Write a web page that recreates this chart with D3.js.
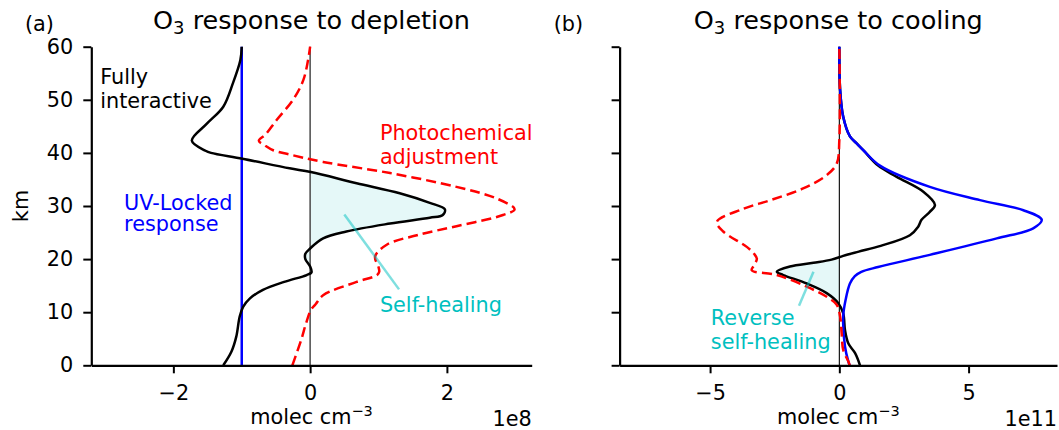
<!DOCTYPE html>
<html>
<head>
<meta charset="utf-8">
<script src="https://cdn.jsdelivr.net/npm/d3@7"></script>
<style>
  body { margin: 0; background: #fff; }
  text { font-family: "DejaVu Sans", sans-serif; }
</style>
</head>
<body>
<div id="chart"></div>
<script>
// altitude ticks shared by both panels
var kmTicks = [0, 10, 20, 30, 40, 50, 60];

// (a) response to depletion, units 1e8 molec cm-3
var aBlueKm  = [0, 60];
var aBlueVal = [-1, -1];
var aBlackKm  = [0, 2.6, 5.4, 9.2, 11, 12.6, 14.2, 15.7, 17.0, 17.5, 18.6, 20.0, 21.0, 22, 23.9, 25.2, 26.7, 27.8, 28.3, 29.4, 30.6, 32.4, 34.3, 36.4, 37.1, 38.9, 40.0, 40.4, 42.3, 45.5, 48.7, 53.1, 57.5, 60];
var aBlackVal = [-1.27, -1.15, -1.08, -1.03, -0.98, -0.88, -0.69, -0.38, -0.05, 0.02, 0, -0.07, -0.07, 0, 0.19, 0.53, 1.17, 1.75, 1.94, 1.97, 1.75, 1.31, 0.68, 0.01, -0.3, -0.99, -1.45, -1.53, -1.73, -1.51, -1.27, -1.13, -1.02, -1.0];
var aRedKm  = [0, 4.8, 7.9, 10.4, 11.5, 13.2, 15.7, 17.0, 17.6, 18.5, 20.5, 22.7, 24.5, 26.2, 28.3, 29.4, 31.4, 33.6, 36.2, 38.3, 39.7, 40.5, 41.4, 42.3, 43.5, 46.2, 50, 53.7, 57.5, 60];
var aRedVal = [-0.26, -0.13, -0.06, 0.01, 0.08, 0.19, 0.68, 0.98, 1.01, 1.0, 0.95, 1.12, 1.56, 2.14, 2.82, 2.99, 2.73, 2.14, 1.17, 0.19, -0.3, -0.54, -0.66, -0.75, -0.65, -0.49, -0.25, -0.1, -0.03, 0];
var aTicks = [-2, 0, 2];

// (b) response to cooling, units 1e11 molec cm-3
var bBlueKm  = [0, 0.7, 3.5, 9.2, 12.5, 15.4, 16.8, 17.6, 18.5, 20.8, 23.9, 25.8, 27.4, 29.2, 31.1, 33.6, 37.6, 40.5, 41.8, 43.1, 46.8, 51.9, 60];
var bBlueVal = [0.4, 0.35, 0.22, 0.15, 0.25, 0.41, 0.6, 0.85, 1.5, 3.5, 6.09, 7.5, 7.83, 7.12, 5.44, 3.5, 1.57, 0.93, 0.67, 0.41, 0.15, 0.03, 0];
var bBlackKm  = [0, 2.3, 4.1, 6.6, 9.8, 11.7, 13.6, 15.4, 17.0, 17.6, 18.6, 19.3, 19.9, 20.6, 21.4, 22.5, 24.5, 26.1, 27.4, 28.9, 30.2, 32.7, 35.5, 37.6, 40.5, 41.8, 43.1, 46.8, 51.9, 60];
var bBlackVal = [0.8, 0.61, 0.35, 0.22, 0.15, -0.04, -0.49, -1.26, -2.17, -2.42, -1.91, -1.0, -0.3, 0.15, 0.75, 1.6, 2.73, 3.05, 3.18, 3.5, 3.7, 3.25, 2.22, 1.5, 0.93, 0.67, 0.41, 0.15, 0.03, 0];
var bRedKm  = [0, 0.7, 2.9, 6.0, 9.2, 11.4, 12.9, 14.8, 17.0, 17.9, 18.8, 20.1, 21.0, 22.3, 25.2, 27.0, 29.4, 31.2, 33.3, 35.8, 38.0, 42.4, 60];
var bRedVal = [0.4, 0.35, 0.15, 0.09, 0.03, -0.1, -0.49, -1.26, -2.42, -3.39, -3.3, -3.19, -3.3, -3.58, -4.49, -4.74, -3.75, -2.6, -1.4, -0.49, -0.1, 0, 0];
var bTicks = [-5, 0, 5];

var W = 1059, H = 430;
var plotTop = 46.7, plotBottom = 365.3;

var svg = d3.select("#chart").append("svg")
    .attr("width", W).attr("height", H);

var y = d3.scaleLinear().domain([0, 60]).range([plotBottom, plotTop]);
var curve = d3.curveCatmullRom.alpha(0.5);

function pts(km, val) {
  return km.map(function(k, i) { return {km: k, v: val[i]}; });
}

function panel(opt) {
  var x = d3.scaleLinear().domain(opt.domain).range([opt.left, opt.right]);
  var g = svg.append("g");

  var line = d3.line()
      .x(function(d) { return x(d.v); })
      .y(function(d) { return y(d.km); })
      .curve(curve);

  // shaded self-healing region
  var black = pts(opt.blackKm, opt.blackVal);
  var fillPts = black.filter(function(d) { return d.km >= opt.fill[0] && d.km <= opt.fill[1]; });
  g.append("path")
      .datum(fillPts)
      .attr("fill", "rgba(0,191,191,0.1)")
      .attr("d", d3.area()
        .y(function(d) { return y(d.km); })
        .x0(x(0))
        .x1(function(d) { return x(d.v); })
        .curve(curve));

  // zero line
  g.append("line")
      .attr("x1", x(0)).attr("x2", x(0))
      .attr("y1", y(0)).attr("y2", y(60))
      .attr("stroke", opt.zeroColor).attr("stroke-width", opt.zeroWidth);

  opt.order.forEach(function(s) {
    var p = g.append("path")
        .datum(pts(s.km, s.val))
        .attr("fill", "none")
        .attr("stroke", s.color)
        .attr("stroke-width", 2.5)
        .attr("d", line);
    if (s.dash) p.attr("stroke-dasharray", "10,5");
  });

  // axes
  var ya = g.append("g")
      .attr("transform", "translate(" + opt.left + ",0)")
      .call(d3.axisLeft(y).tickValues(kmTicks).tickSize(8).tickPadding(10).tickSizeOuter(0)
        .tickFormat(opt.yLabels ? d3.format("d") : ""));
  var xa = g.append("g")
      .attr("transform", "translate(0," + plotBottom + ")")
      .call(d3.axisBottom(x).tickValues(opt.ticks).tickSize(8).tickPadding(12).tickSizeOuter(0)
        .tickFormat(d3.format("d")));
  [ya, xa].forEach(function(a) {
    a.select(".domain").attr("stroke", "#000").attr("stroke-width", 2.2);
    a.selectAll(".tick line").attr("stroke", "#000").attr("stroke-width", 2);
    a.selectAll(".tick text").attr("fill", "#000").style("font-size", "20.8px");
  });

  // titles
  var cx = (opt.left + opt.right) / 2;
  var t = g.append("text").attr("x", cx).attr("y", 29).attr("text-anchor", "middle")
      .style("font-size", "25.5px");
  t.append("tspan").text("O");
  t.append("tspan").attr("dy", 5).style("font-size", "18px").text("3");
  t.append("tspan").attr("dy", -5).text(" " + opt.title);

  g.append("text").attr("x", opt.letterX).attr("y", 31).style("font-size", "20.8px").text(opt.letter);

  var xl = g.append("text").attr("x", cx).attr("y", 424).attr("text-anchor", "middle")
      .style("font-size", "20.8px");
  xl.append("tspan").text("molec cm");
  xl.append("tspan").attr("dy", -8).style("font-size", "14.5px").text("\u22123");

  g.append("text").attr("x", opt.right).attr("y", 426).attr("text-anchor", "end")
      .style("font-size", "20.8px").text(opt.offset);

  // annotation labels in data coords
  opt.labels.forEach(function(l) {
    var tx = g.append("text").attr("fill", l.color).style("font-size", "20.8px");
    l.lines.forEach(function(s, i) {
      tx.append("tspan").attr("x", x(l.v)).attr("y", y(l.km[i])).text(s);
    });
  });
  opt.pointers.forEach(function(p) {
    g.append("line")
        .attr("x1", x(p[0])).attr("y1", y(p[1]))
        .attr("x2", x(p[2])).attr("y2", y(p[3]))
        .attr("stroke", "#00bfbf").attr("stroke-opacity", 0.5).attr("stroke-width", 2.5);
  });
}

panel({
  left: 91.3, right: 531.7, domain: [-3.2, 3.24], ticks: aTicks, yLabels: true,
  blackKm: aBlackKm, blackVal: aBlackVal, fill: [17.4, 36.4],
  zeroColor: "#555", zeroWidth: 1.6,
  order: [
    {km: aBlueKm, val: aBlueVal, color: "#0000ff"},
    {km: aRedKm, val: aRedVal, color: "#ff0000", dash: true},
    {km: aBlackKm, val: aBlackVal, color: "#000"}
  ],
  title: "response to depletion", letter: "(a)", letterX: 25, offset: "1e8",
  labels: [
    {lines: ["Fully", "interactive"], v: -3.07, km: [53.0, 48.5], color: "#000"},
    {lines: ["UV-Locked", "response"], v: -2.72, km: [29.3, 25.3], color: "#0000ff"},
    {lines: ["Photochemical", "adjustment"], v: 1.02, km: [42.4, 37.9], color: "#ff0000"},
    {lines: ["Self-healing"], v: 1.02, km: [10.1], color: "#00bfbf"}
  ],
  pointers: [[0.5, 28.4, 1.3, 14.3]]
});

panel({
  left: 619.6, right: 1057, domain: [-8.5, 8.42], ticks: bTicks, yLabels: false,
  blackKm: bBlackKm, blackVal: bBlackVal, fill: [11.7, 20.4],
  zeroColor: "#000", zeroWidth: 1.1,
  order: [
    {km: bBlackKm, val: bBlackVal, color: "#000"},
    {km: bBlueKm, val: bBlueVal, color: "#0000ff"},
    {km: bRedKm, val: bRedVal, color: "#ff0000", dash: true}
  ],
  title: "response to cooling", letter: "(b)", letterX: 553.7, offset: "1e11",
  labels: [
    {lines: ["Reverse", "self-healing"], v: -4.97, km: [7.6, 3.1], color: "#00bfbf"}
  ],
  pointers: [[-1.0, 17.6, -1.56, 11.2]]
});

// y label
svg.append("text")
    .attr("transform", "translate(28,206) rotate(-90)")
    .attr("text-anchor", "middle")
    .style("font-size", "20.8px")
    .text("km");
</script>
</body>
</html>
